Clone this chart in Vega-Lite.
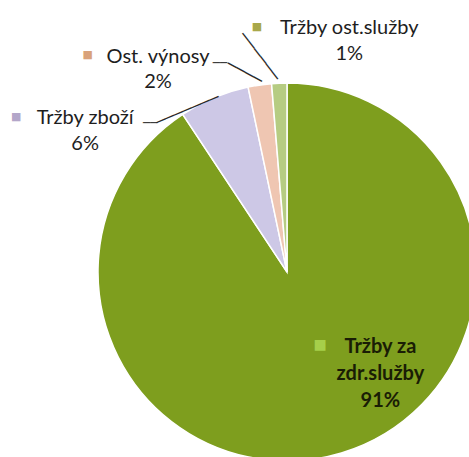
{
  "$schema": "https://vega.github.io/schema/vega-lite/v6.json",
  "width": 574,
  "height": 544,
  "autosize": "none",
  "padding": 0,
  "background": "white",
  "config": {"view": {"stroke": null}},
  "data": {"values": [
    {"cat": "Tržby za zdr.služby", "value": 90.7, "label": "Tržby za\nzdr.služby\n91%", "rank": 1},
    {"cat": "Tržby zboží", "value": 6.0, "label": "Tržby zboží\n6%", "rank": 2},
    {"cat": "Ost. výnosy", "value": 2.0, "label": "Ost. výnosy\n2%", "rank": 3},
    {"cat": "Tržby ost.služby", "value": 1.3, "label": "Tržby ost.služby\n1%", "rank": 4}
  ]},
  "encoding": {
    "theta": {"field": "value", "type": "quantitative", "stack": true},
    "order": {"field": "rank", "type": "quantitative"},
    "detail": {"field": "cat", "type": "nominal"}
  },
  "layer": [
    {
      "mark": {"type": "arc", "outerRadius": 189, "stroke": "#ffffff", "strokeWidth": 1.5},
      "encoding": {
        "color": {"field": "cat", "type": "nominal", "legend": null,
          "scale": {"domain": ["Tržby za zdr.služby", "Tržby zboží", "Ost. výnosy", "Tržby ost.služby"],
                    "range": ["#7e9e1e", "#cdc8e6", "#efc6b2", "#b6cc82"]}}
      }
    },
    {
      "mark": {"type": "text", "radius": 238.2, "dx": 72, "dy": 0, "align": "center", "baseline": "alphabetic", "lineBreak": "\n", "lineHeight": 26, "font": "Lato", "fontSize": 20, "fill": "#1e1e1e"},
      "encoding": {"text": {"field": "label"}, "opacity": {"condition": {"test": "datum.cat === 'Tržby ost.služby'", "value": 1}, "value": 0}}
    },
    {
      "mark": {"type": "text", "radius": 211.2, "dx": -98.5, "dy": 0, "align": "center", "baseline": "alphabetic", "lineBreak": "\n", "lineHeight": 25, "font": "Lato", "fontSize": 20, "fill": "#1e1e1e"},
      "encoding": {"text": {"field": "label"}, "opacity": {"condition": {"test": "datum.cat === 'Ost. výnosy'", "value": 1}, "value": 0}}
    },
    {
      "mark": {"type": "text", "radius": 160.4, "dx": -140, "dy": 0, "align": "center", "baseline": "alphabetic", "lineBreak": "\n", "lineHeight": 26, "font": "Lato", "fontSize": 20, "fill": "#1e1e1e"},
      "encoding": {"text": {"field": "label"}, "opacity": {"condition": {"test": "datum.cat === 'Tržby zboží'", "value": 1}, "value": 0}}
    },
    {
      "mark": {"type": "text", "radius": 84.6, "dx": 69, "dy": 0, "align": "center", "baseline": "alphabetic", "lineBreak": "\n", "lineHeight": 27, "font": "Lato", "fontSize": 20, "fontWeight": "bold", "fill": "#1a1d05"},
      "encoding": {"text": {"field": "label"}, "opacity": {"condition": {"test": "datum.cat === 'Tržby za zdr.služby'", "value": 1}, "value": 0}}
    },
    {
      "mark": {"type": "text", "text": "■", "radius": 238.2, "dx": -20.4, "dy": -7, "align": "center", "baseline": "middle", "font": "DejaVu Sans", "fontSize": 11, "fill": "#a9a84a"},
      "encoding": {"opacity": {"condition": {"test": "datum.cat === 'Tržby ost.služby'", "value": 1}, "value": 0}}
    },
    {
      "mark": {"type": "text", "text": "■", "radius": 211.2, "dx": -169, "dy": -8, "align": "center", "baseline": "middle", "font": "DejaVu Sans", "fontSize": 11, "fill": "#d9a27a"},
      "encoding": {"opacity": {"condition": {"test": "datum.cat === 'Ost. výnosy'", "value": 1}, "value": 0}}
    },
    {
      "mark": {"type": "text", "text": "■", "radius": 160.4, "dx": -209, "dy": -7, "align": "center", "baseline": "middle", "font": "DejaVu Sans", "fontSize": 11, "fill": "#b3a6c9"},
      "encoding": {"opacity": {"condition": {"test": "datum.cat === 'Tržby zboží'", "value": 1}, "value": 0}}
    },
    {
      "mark": {"type": "text", "text": "■", "radius": 84.6, "dx": 8.7, "dy": -8, "align": "center", "baseline": "middle", "font": "DejaVu Sans", "fontSize": 14, "fill": "#a6cf4a"},
      "encoding": {"opacity": {"condition": {"test": "datum.cat === 'Tržby za zdr.služby'", "value": 1}, "value": 0}}
    },
    {
      "mark": {"type": "text", "text": "──────", "radius": 238.2, "angle": 52.6, "dx": 7.3, "dy": 27.5, "align": "center", "baseline": "middle", "font": "DejaVu Sans Mono", "fontSize": 16, "fill": "#2a2a2a"},
      "encoding": {"opacity": {"condition": {"test": "datum.cat === 'Tržby ost.služby'", "value": 1}, "value": 0}}
    },
    {
      "mark": {"type": "text", "text": "────", "radius": 211.2, "angle": 28.5, "dx": -6.0, "dy": 14.1, "align": "center", "baseline": "middle", "font": "DejaVu Sans Mono", "fontSize": 16, "fill": "#2a2a2a"},
      "encoding": {"opacity": {"condition": {"test": "datum.cat === 'Ost. výnosy'", "value": 1}, "value": 0}}
    },
    {
      "mark": {"type": "text", "text": "──", "radius": 211.2, "dx": -36.5, "dy": 0, "align": "center", "baseline": "middle", "font": "DejaVu Sans Mono", "fontSize": 12, "fill": "#2a2a2a"},
      "encoding": {"opacity": {"condition": {"test": "datum.cat === 'Ost. výnosy'", "value": 1}, "value": 0}}
    },
    {
      "mark": {"type": "text", "text": "───────", "radius": 160.4, "angle": -23.1, "dx": -29.1, "dy": -27.6, "align": "center", "baseline": "middle", "font": "DejaVu Sans Mono", "fontSize": 16, "fill": "#2a2a2a"},
      "encoding": {"opacity": {"condition": {"test": "datum.cat === 'Tržby zboží'", "value": 1}, "value": 0}}
    },
    {
      "mark": {"type": "text", "text": "──", "radius": 160.4, "dx": -75, "dy": -1, "align": "center", "baseline": "middle", "font": "DejaVu Sans Mono", "fontSize": 12, "fill": "#2a2a2a"},
      "encoding": {"opacity": {"condition": {"test": "datum.cat === 'Tržby zboží'", "value": 1}, "value": 0}}
    }
  ]
}
